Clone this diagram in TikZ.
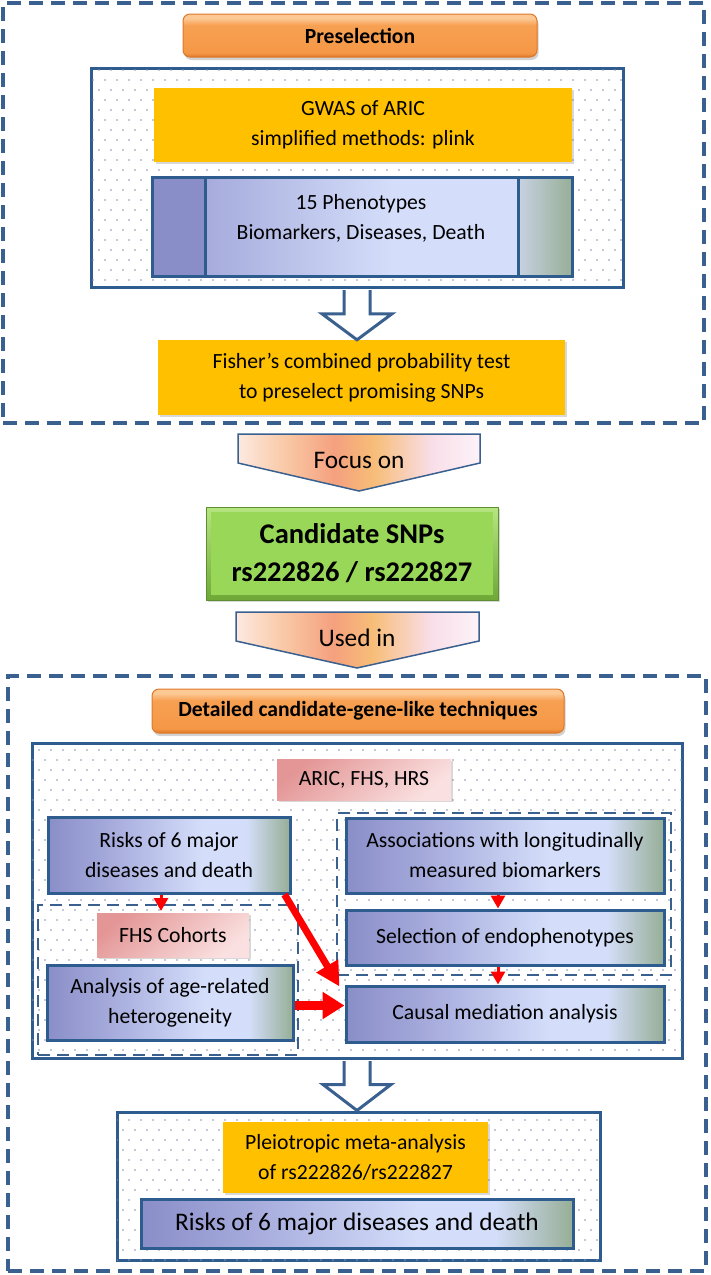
\documentclass[tikz,border=0pt]{standalone}
\usepackage{fontspec}
\setmainfont{Carlito}
\usetikzlibrary{arrows.meta,shadows,patterns,calc}

\definecolor{dblue}{RGB}{58,96,144}
\definecolor{bord}{RGB}{47,92,142}
\definecolor{orng}{RGB}{247,160,82}
\definecolor{orngM}{RGB}{245,152,70}
\definecolor{orngL}{RGB}{252,200,148}
\definecolor{orngD}{RGB}{222,120,42}
\definecolor{yel}{RGB}{255,192,0}
\definecolor{bgA}{RGB}{138,142,200}
\definecolor{bgA2}{RGB}{166,171,220}
\definecolor{bgB}{RGB}{212,222,250}
\definecolor{bgC}{RGB}{150,174,150}
\definecolor{bgR}{RGB}{200,210,226}
\definecolor{pinkA}{RGB}{228,150,150}
\definecolor{pinkB}{RGB}{250,224,224}
\definecolor{grnA}{RGB}{182,230,130}
\definecolor{grn}{RGB}{152,215,88}
\definecolor{grnD}{RGB}{110,168,55}
\definecolor{ch0}{RGB}{253,233,224}
\definecolor{ch1}{RGB}{249,200,165}
\definecolor{ch2}{RGB}{245,160,126}
\definecolor{ch3}{RGB}{247,189,120}
\definecolor{ch4}{RGB}{249,222,232}
\definecolor{ch5}{RGB}{253,242,248}
\definecolor{dotc}{RGB}{135,146,178}

\pgfdeclarehorizontalshading{bluegrad}{100bp}{color(0bp)=(bgA); color(25bp)=(bgA); color(38bp)=(bgA2); color(57bp)=(bgB); color(66bp)=(bgB); color(75bp)=(bgC); color(100bp)=(bgC)}
\pgfdeclarehorizontalshading{midgrad}{100bp}{color(0bp)=(bgA2); color(25bp)=(bgA2); color(55bp)=(bgB); color(100bp)=(bgB)}
\pgfdeclarehorizontalshading{rightgrad}{100bp}{color(0bp)=(bgR); color(25bp)=(bgR); color(75bp)=(bgC); color(100bp)=(bgC)}
\pgfdeclarehorizontalshading{chevgrad}{100bp}{color(0bp)=(ch0); color(25bp)=(ch0); color(35bp)=(ch1); color(45bp)=(ch2); color(53bp)=(ch3); color(65bp)=(ch4); color(75bp)=(ch5); color(100bp)=(ch5)}
\pgfdeclareverticalshading{btngrad}{100bp}{color(0bp)=(orngD); color(25bp)=(orngD); color(30bp)=(orngM); color(62bp)=(orng); color(70bp)=(orngL); color(75bp)=(orngL); color(100bp)=(orngL)}

\pgfdeclarepatternformonly{sdots}{\pgfqpoint{-1pt}{-1pt}}{\pgfqpoint{13pt}{21pt}}{\pgfqpoint{12pt}{20pt}}{%
  \pgfpathcircle{\pgfqpoint{3pt}{5pt}}{0.9pt}%
  \pgfpathcircle{\pgfqpoint{9pt}{15pt}}{0.9pt}%
  \pgfusepath{fill}}

\newcommand{\myfN}{\fontsize{21.7pt}{30pt}\selectfont}
\newcommand{\myfB}{\fontsize{21.6pt}{26pt}\selectfont\bfseries}
\newcommand{\myfL}{\fontsize{25.3pt}{30pt}\selectfont}
\newcommand{\myfC}{\fontsize{28.5pt}{38pt}\selectfont\bfseries}

\tikzset{
  wh/.style 2 args={minimum width=#1pt, minimum height=#2pt},
  outerdash/.style={draw=dblue, line width=3.5pt, dash pattern=on 14pt off 8pt, inner sep=0pt},
  innerdash/.style={draw=dblue, line width=2.5pt, dash pattern=on 12pt off 7pt, inner sep=0pt},
  dotbox/.style={draw=bord, line width=3pt, fill=white, inner sep=0pt,
    postaction={pattern=sdots, pattern color=dotc}},
  bluebox/.style={draw=bord, line width=3pt, shade, shading=bluegrad, font=\myfN, align=center, inner sep=0pt},
  yelbox/.style={fill=yel, drop shadow={shadow xshift=2pt, shadow yshift=-2pt, opacity=0.3},
    font=\myfN, align=center, inner sep=0pt},
  pinkbox/.style={top color=pinkA, bottom color=pinkB, shading angle=40,
    drop shadow={shadow xshift=2pt, shadow yshift=-2pt, opacity=0.3},
    font=\myfN, align=center, inner sep=0pt},
  btn/.style={rounded corners=7pt, draw=orngD, line width=1pt, shade, shading=btngrad,
    drop shadow={shadow xshift=1.5pt, shadow yshift=-3pt, opacity=0.35},
    font=\myfB, inner sep=0pt},
  grnbox/.style={top color=grnA, bottom color=grnD, draw=grnD!85!black, line width=0.8pt,
    path picture={\fill[grn] ([shift={(5pt,-5pt)}]path picture bounding box.north west)
      rectangle ([shift={(-5pt,5pt)}]path picture bounding box.south east);},
    drop shadow={shadow xshift=2pt, shadow yshift=-2pt, opacity=0.3},
    font=\myfC, align=center, inner sep=0pt},
  chev/.style={draw=dblue, line width=1.5pt, shade, shading=chevgrad},
  blockarr/.style={draw=dblue, line width=3pt, fill=white, line join=miter},
  redsm/.style={draw=red, line width=3pt, -{Triangle[length=13pt,width=14pt]}},
  redthick/.style={draw=red, line width=7pt, -{Triangle[length=24pt,width=24pt]}},
  redthickh/.style={draw=red, line width=8.5pt, -{Triangle[length=22pt,width=26pt]}},
}

\begin{document}
\begin{tikzpicture}[x=1pt,y=-1pt]
\fill[white] (0,0) rectangle (710,1275);
\useasboundingbox (0,0) rectangle (710,1275);

% ---------- Preselection section ----------
\node[outerdash, wh={701}{420}] (outer1) at (353.5,213) {};
\node[btn, wh={354}{43}] (presel) at (360,35.5) {Preselection};
\node[dotbox, wh={532}{219}] (inner1) at (357,177.5) {};
\node[yelbox, wh={418}{74}] (gwas) at (363,125) {GWAS of ARIC\\simplified methods: plink};

\node[inner sep=0pt, wh={419}{98}] (pheno) at (362.5,227) {};
\fill[bgA] (pheno.north west) rectangle (205,276);
\shade[shading=midgrad] (205,178) rectangle (518,276);
\shade[shading=rightgrad] (518,178) rectangle (pheno.south east);
\draw[bord, line width=3pt] (pheno.north west) rectangle (pheno.south east);
\draw[bord, line width=3pt] (205,178) -- (205,276);
\draw[bord, line width=3pt] (518,178) -- (518,276);
\node[font=\myfN, align=center] (phenotxt) at (361,218) {15 Phenotypes\\Biomarkers, Diseases, Death};

\node[yelbox, wh={407}{75}] (fisher) at (361.5,377.5) {Fisher’s combined probability test\\to preselect promising SNPs};

\coordinate (a1) at (inner1.south);
\coordinate (a1t) at (inner1.south |- fisher.north);
\draw[blockarr] ($(a1)+(-13,1.5)$) -- ($(a1t)+(-13,-26)$) -- ($(a1t)+(-35,-26)$) -- (a1t)
  -- ($(a1t)+(35,-26)$) -- ($(a1t)+(13,-26)$) -- ($(a1)+(13,1.5)$);

% ---------- Focus on ----------
\path[chev] (238,434) -- (480,434) -- (480,463) -- (359,491) -- (238,463) -- cycle;
\node[font=\myfL] (focus) at (359,460) {Focus on};

\node[grnbox, wh={292}{93}] (cand) at (352,553.5) {Candidate SNPs\\rs222826 / rs222827};

\path[chev] (236,612) -- (479,612) -- (479,641) -- (357,668) -- (236,641) -- cycle;
\node[font=\myfL] (used) at (357,638) {Used in};

% ---------- Detailed section ----------
\node[outerdash, wh={698}{595}] (outer2) at (357,973.5) {};
\node[btn, wh={412}{44}] (det) at (358,711) {Detailed candidate-gene-like techniques};
\node[dotbox, wh={650}{315}] (inner2) at (357,900.5) {};
\node[pinkbox, wh={174}{41}] (aric) at (364,779.5) {ARIC, FHS, HRS};
\node[bluebox, wh={242}{76}] (risks) at (169,855) {Risks of 6 major\\diseases and death};

\node[innerdash, wh={334}{162}] (rdash) at (504,894) {};
\node[bluebox, wh={318}{75}] (assoc) at (505,855.5) {Associations with longitudinally\\measured biomarkers};
\node[bluebox, wh={318}{55}] (select) at (505,937.5) {Selection of endophenotypes};
\node[bluebox, wh={318}{56}] (causal) at (505,1014) {Causal mediation analysis};

\node[innerdash, wh={260}{150}] (ldash) at (168,980) {};
\node[pinkbox, wh={152}{44}] (fhs) at (173,935) {FHS Cohorts};
\node[bluebox, wh={246}{75}] (anal) at (170,1002.5) {Analysis of age-related\\heterogeneity};

% red arrows
\coordinate (t1) at (161,911);
\draw[redsm] (risks.south -| t1) -- (t1);
\draw[redthick] ([xshift=-7pt]risks.south east) -- ([xshift=-5pt,yshift=-2pt]causal.north west);
\draw[redthickh] ([yshift=-3pt]anal.east) -- ([yshift=-3pt]anal.east -| causal.west);
\draw[redsm] ([xshift=-7pt]assoc.south) -- ([xshift=-7pt]select.north);
\draw[redsm] ([xshift=-7pt]select.south) -- ([xshift=-7pt]causal.north);

% ---------- bottom ----------
\node[dotbox, wh={483}{148}] (inner3) at (358.5,1186) {};
\node[yelbox, wh={265}{71}] (pleio) at (355.5,1157.5) {Pleiotropic meta-analysis\\of rs222826/rs222827};
\node[bluebox, wh={432}{49}, font=\myfL] (risks2) at (357,1223.5) {Risks of 6 major diseases and death};

\coordinate (a2) at (inner2.south);
\coordinate (a2t) at (inner2.south |- inner3.north);
\draw[blockarr] ($(a2)+(-13,1.5)$) -- ($(a2t)+(-13,-26)$) -- ($(a2t)+(-34,-26)$) -- (a2t)
  -- ($(a2t)+(34,-26)$) -- ($(a2t)+(13,-26)$) -- ($(a2)+(13,1.5)$);
\end{tikzpicture}
\end{document}
